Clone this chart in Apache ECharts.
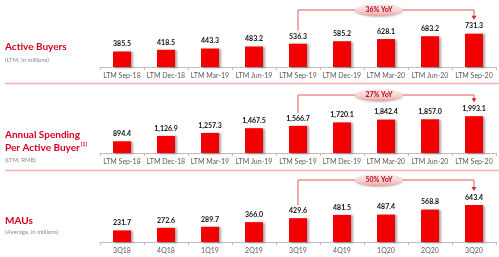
<!DOCTYPE html>
<html><head><meta charset="utf-8">
<script src="https://cdn.jsdelivr.net/npm/echarts@6/dist/echarts.min.js"></script>
<style>html,body{margin:0;padding:0;background:#fff}#c{width:499px;height:257px}</style>
</head><body><div id="c"></div>
<script>
// ---- data ----
const ltmCategories = ['LTM Sep-18','LTM Dec-18','LTM Mar-19','LTM Jun-19','LTM Sep-19','LTM Dec-19','LTM Mar-20','LTM Jun-20','LTM Sep-20'];
const activeBuyers = [385.5,418.5,443.3,483.2,536.3,585.2,628.1,683.2,731.3];
const spendingPerBuyer = [894.4,1126.9,1257.3,1467.5,1566.7,1720.1,1842.4,1857.0,1993.1];
const mauCategories = ['3Q18','4Q18','1Q19','2Q19','3Q19','4Q19','1Q20','2Q20','3Q20'];
const maus = [231.7,272.6,289.7,366.0,429.6,481.5,487.4,568.8,643.4];
const yoyLabels = ['36% YoY','27% YoY','50% YoY'];
const yoyFromIndex = 4, yoyToIndex = 8;
const panelTitles = [['Active Buyers'], ['Annual Spending','Per Active Buyer'], ['MAUs']];
const panelSubtitles = ['(LTM, in millions)','(LTM, RMB)','(Average, in millions)'];

// ---- layout / style ----
const FONT = 'Lato, "Open Sans", sans-serif';
const RED_TITLE = '#d6001c';
const TITLE_FONT = 'bold 10px ' + FONT;
const panels = [
  {cats: ltmCategories, data: activeBuyers, top: 17, height: 50, min: 85, max: 1056, lineY: 10, titleY: [46.5], subY: 60.5},
  {cats: ltmCategories, data: spendingPerBuyer, top: 103, height: 50, min: 382, max: 2570, lineY: 95, titleY: [135, 147.5], subY: 160.5},
  {cats: mauCategories, data: maus, top: 192, height: 50, min: 44, max: 854, lineY: 180, titleY: [220.5], subY: 232.5}
];
const fmt = v => v.toLocaleString('en-US', {minimumFractionDigits: 1, maximumFractionDigits: 1});

const chart = echarts.init(document.getElementById('c'), null, {renderer: 'canvas'});
const option = {
  animation: false,
  backgroundColor: '#fff',
  grid: panels.map(p => ({left: 100, right: 3, top: p.top, height: p.height})),
  xAxis: panels.map((p, i) => ({
    type: 'category', gridIndex: i, data: p.cats,
    axisLine: {lineStyle: {color: '#bfbfbf', width: 1}},
    axisTick: {show: true, length: 3, lineStyle: {color: '#bfbfbf'}},
    axisLabel: {color: '#595959', fontSize: 7, fontFamily: FONT, margin: 5, interval: 0}
  })),
  yAxis: panels.map((p, i) => ({
    type: 'value', gridIndex: i, min: p.min, max: p.max, show: false, splitLine: {show: false}
  })),
  series: panels.map((p, i) => ({
    type: 'bar', xAxisIndex: i, yAxisIndex: i, data: p.data, barWidth: 18,
    itemStyle: {color: '#f50000', shadowColor: 'rgba(0,0,0,0.35)', shadowBlur: 2, shadowOffsetX: 1.5, shadowOffsetY: 0.5},
    label: {show: true, position: 'top', distance: 4, color: '#111', fontSize: 7, fontWeight: 'bold', fontFamily: FONT,
      formatter: d => fmt(d.value)}
  }))
};
chart.setOption(option);

const g = [];
// separators
[83.5, 170.5].forEach(y => g.push({type: 'line', shape: {x1: 5, y1: y, x2: 499, y2: y},
  style: {stroke: '#f3b3b3', lineWidth: 1.5}, z: 1}));
// titles
panels.forEach((p, i) => {
  panelTitles[i].forEach((t, j) => {
    const isSup = (i === 1 && j === 1);
    g.push({type: 'text', x: 5, y: p.titleY[j], z: 10,
      style: isSup ? {
        text: '{a|' + t + '}{s|(1)}', verticalAlign: 'middle', textVerticalAlign: 'middle',
        rich: {a: {font: TITLE_FONT, fill: RED_TITLE, color: RED_TITLE},
               s: {font: 'bold 5.5px ' + FONT, fill: RED_TITLE, color: RED_TITLE, padding: [0, 0, 6, 1]}}
      } : {text: t, font: TITLE_FONT, fill: RED_TITLE, verticalAlign: 'middle', textVerticalAlign: 'middle'}});
  });
  g.push({type: 'text', x: 5, y: p.subY, z: 10,
    style: {text: panelSubtitles[i], font: '6px ' + FONT, fill: '#8c8c8c', verticalAlign: 'middle', textVerticalAlign: 'middle'}});
});
// YoY brackets anchored to bars
panels.forEach((p, i) => {
  const a = chart.convertToPixel({seriesIndex: i}, [yoyFromIndex, p.data[yoyFromIndex]]);
  const b = chart.convertToPixel({seriesIndex: i}, [yoyToIndex, p.data[yoyToIndex]]);
  const ly = p.lineY;
  const startY = a[1] - 13;
  const tipY = b[1] - 14;
  g.push({type: 'polyline', z: 5, shape: {points: [[a[0], startY], [a[0], ly], [b[0], ly], [b[0], tipY - 3]]},
    style: {stroke: '#e05a5a', lineWidth: 1, fill: null}});
  g.push({type: 'polygon', z: 5, shape: {points: [[b[0] - 2.5, tipY - 4], [b[0] + 2.5, tipY - 4], [b[0], tipY]]},
    style: {fill: '#d42a2a'}});
  const cx = a[0] + 0.46 * (b[0] - a[0]);
  g.push({type: 'ellipse', z: 6, shape: {cx: cx, cy: ly, rx: 24, ry: 6},
    style: {fill: new echarts.graphic.LinearGradient(0, 0, 0, 1, [{offset: 0, color: '#fdeeee'}, {offset: 0.6, color: '#f8d0d0'}, {offset: 1, color: '#eea0a0'}]),
      shadowColor: 'rgba(0,0,0,0.25)', shadowBlur: 2, shadowOffsetY: 1}});
  g.push({type: 'text', z: 7, x: cx, y: ly,
    style: {text: yoyLabels[i], font: 'bold 7px ' + FONT, fill: '#b8001a', align: 'center', textAlign: 'center', verticalAlign: 'middle', textVerticalAlign: 'middle'}});
});
chart.setOption({graphic: g});
</script></body></html>
